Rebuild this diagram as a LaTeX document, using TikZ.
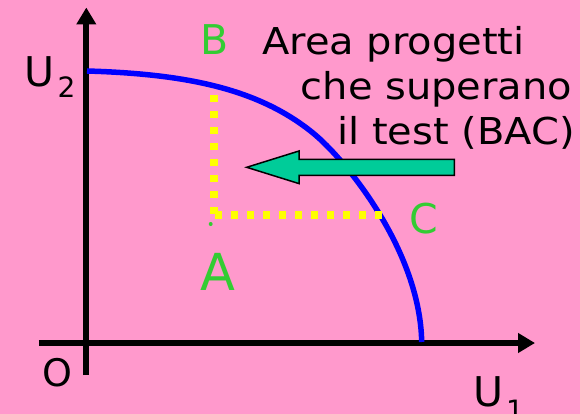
\documentclass[tikz,border=0pt]{standalone}
\usepackage{fontspec}
\usetikzlibrary{arrows.meta}
\setmainfont{DejaVu Sans}
\newfontfamily\widefont[FakeStretch=1.08]{DejaVu Sans}
\definecolor{bgpink}{HTML}{FF99CC}
\definecolor{lblgreen}{HTML}{33CC33}
\definecolor{arrowgreen}{HTML}{00CC99}
\definecolor{curveblue}{HTML}{0000FF}
\definecolor{dotyellow}{HTML}{FFFF00}
\tikzset{
  axis/.style={line width=6pt, -{Triangle[length=17pt,width=19pt]}},
  frontier/.style={line width=5.5pt, curveblue},
  dotline/.style={line width=7.5pt, dotyellow, dash pattern=on 7pt off 9pt},
  lbl/.style={inner sep=0pt, anchor=base west, text=lblgreen, font=\fontsize{41}{41}\selectfont},
  txt/.style={inner sep=0pt, anchor=base west, font=\widefont\fontsize{37}{37}\selectfont},
  axlbl/.style={inner sep=0pt, anchor=base west, font=\fontsize{41}{41}\selectfont},
  sublbl/.style={inner sep=0pt, anchor=base west, font=\fontsize{28}{28}\selectfont},
}
\begin{document}
\begin{tikzpicture}[x=1pt,y=-1pt]
\fill[bgpink] (0,0) rectangle (580,414);
\useasboundingbox (0,0) rectangle (580,414);
% axes
\coordinate (xs) at (38.8,343);
\coordinate (xe) at (535,343);
\coordinate (ys) at (86.3,375);
\coordinate (ye) at (86.3,7.5);
\draw[axis] (xs) -- (xe);
\draw[axis] (ys) -- (ye);
% frontier curve
\coordinate (f0) at (87,71);
\coordinate (f1) at (313,133);
\coordinate (f2) at (421.7,342);
\draw[frontier] (f0) .. controls (190,74) and (260,90) .. (f1)
  .. controls (345,159) and (420,250) .. (f2);
% yellow dotted lines
\coordinate (Bt) at (214,95);
\coordinate (Ac) at (214,215);
\coordinate (Cr) at (383,215);
\draw[dotline] (Bt) -- (214,217);
\draw[dotline] (215,215) -- (Cr);
\fill[lblgreen] (210.7,224) circle (2pt);
% green arrow
\draw[fill=arrowgreen, line width=1.5pt, line join=miter]
 (246.7,167.3) -- (299,151) -- (299,159.3) -- (454.3,159.3) -- (454.3,175.3)
 -- (299,175.3) -- (299,183.6) -- cycle;
% texts
\node[txt] (t1) at (262,55) {Area progetti};
\node[txt] (t2) at (300.5,100) {che superano};
\node[txt] (t3) at (337,145) {il test (BAC)};
\node[lbl] (B) at (200,55) {B};
\node[lbl, font=\fontsize{51}{51}\selectfont] (A) at (200.5,290) {A};
\node[lbl] (C) at (409.5,233.5) {C};
\node[axlbl] (U2) at (24.5,86.7) {U};
\node[sublbl] (s2) at (57.5,97.3) {2};
\node[axlbl, font=\fontsize{38}{38}\selectfont] (O) at (42.5,386) {O};
\node[axlbl] (U1) at (472.8,406.7) {U};
\node[sublbl] (s1) at (506,420.4) {1};
\end{tikzpicture}
\end{document}
